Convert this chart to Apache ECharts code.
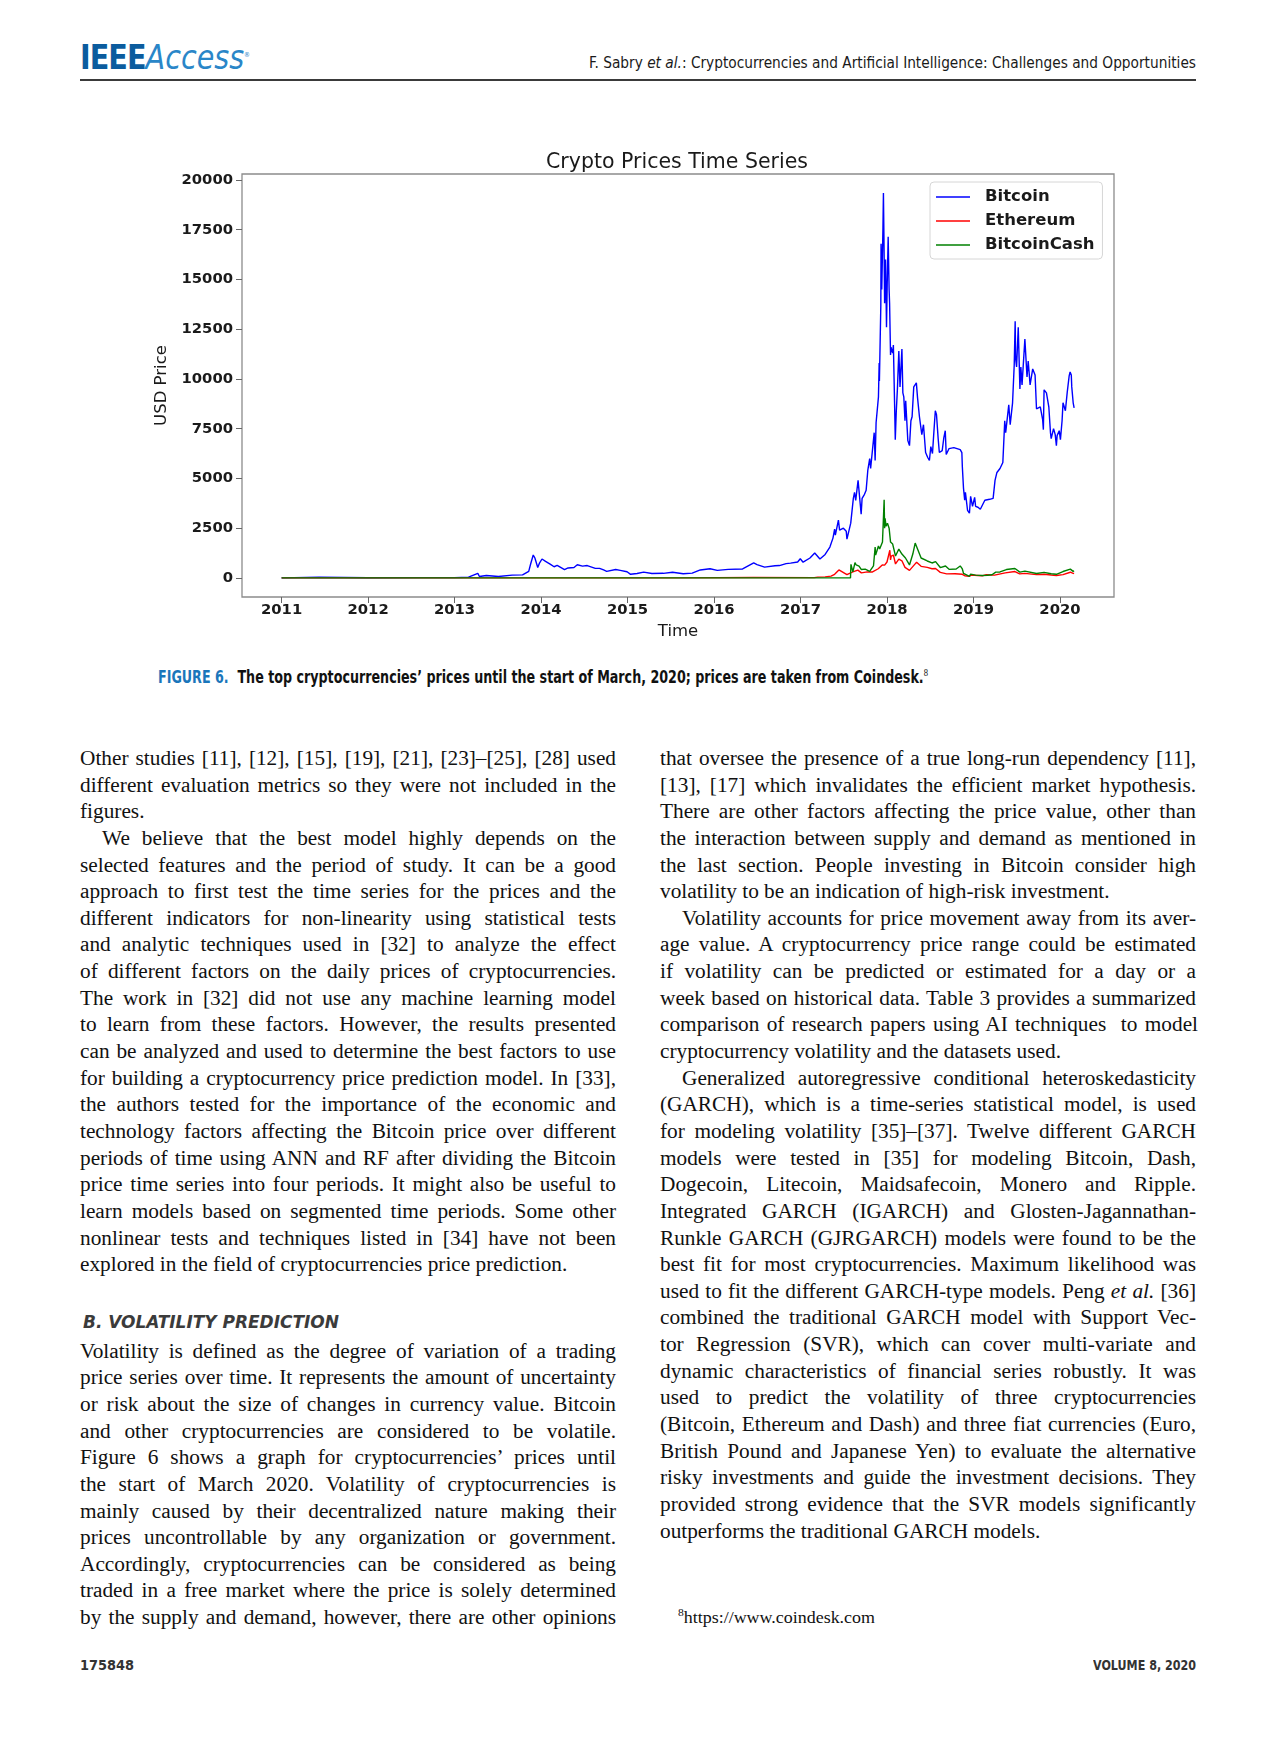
<!DOCTYPE html>
<html><head><meta charset="utf-8">
<script src="https://cdn.jsdelivr.net/npm/echarts@6/dist/echarts.min.js"></script>
<style>
html,body{margin:0;padding:0;background:#fff;}
body{width:1280px;height:1740px;position:relative;overflow:hidden;font-family:'Liberation Serif','Times New Roman',serif;color:#231f20;}
.abs{position:absolute;white-space:nowrap;}
.fit{transform-origin:0 50%;display:inline-block;white-space:nowrap;}
.sans{font-family:'Liberation Sans Narrow','DejaVu Sans Condensed','Liberation Sans',sans-serif;}
.col{position:absolute;width:536px;font-size:21.3px;line-height:26.65px;color:#111;}
.ln{white-space:nowrap;height:26.65px;}
.ln span{display:inline-block;white-space:nowrap;}
.ind{padding-left:22px;}
#chart{position:absolute;left:0;top:120px;width:1280px;height:540px;}
</style></head><body>

<div class="abs sans" style="left:80px;top:36px;line-height:38px;height:38px;font-size:34px;">
  <span class="fit" data-w="170"><b style="color:#0b5c9e;letter-spacing:-1px;">IEEE</b><i style="color:#2a86c8;">Access</i><sup style="font-size:7px;color:#2a86c8;">®</sup></span>
</div>
<div class="abs sans" style="left:589px;top:53px;line-height:20px;height:20px;font-size:16.5px;color:#1a1a1a;">
  <span class="fit" data-w="607">F. Sabry <i>et al.</i>: Cryptocurrencies and Artificial Intelligence: Challenges and Opportunities</span>
</div>
<div class="abs" style="left:80px;top:79px;width:1116px;height:1.5px;background:#3a3a3a;"></div>

<div id="chart"></div>

<div class="abs sans" style="left:158px;top:661px;line-height:22px;height:22px;font-size:18px;font-weight:bold;color:#111;">
  <span class="fit" data-w="770"><span style="color:#1a76bb;">FIGURE 6.</span>&nbsp; The top cryptocurrencies’ prices until the start of March, 2020; prices are taken from Coindesk.<sup style="font-weight:normal;font-size:11px;font-family:'Liberation Serif',serif;">8</sup></span>
</div>

<div class="col" id="leftA" style="left:80px;top:745px;">
  <div class="ln j"><span>Other studies [11], [12], [15], [19], [21], [23]–[25], [28] used</span></div>
  <div class="ln j"><span>different evaluation metrics so they were not included in the</span></div>
  <div class="ln"><span>figures.</span></div>
  <div class="ln j ind"><span>We believe that the best model highly depends on the</span></div>
  <div class="ln j"><span>selected features and the period of study. It can be a good</span></div>
  <div class="ln j"><span>approach to first test the time series for the prices and the</span></div>
  <div class="ln j"><span>different indicators for non-linearity using statistical tests</span></div>
  <div class="ln j"><span>and analytic techniques used in [32] to analyze the effect</span></div>
  <div class="ln j"><span>of different factors on the daily prices of cryptocurrencies.</span></div>
  <div class="ln j"><span>The work in [32] did not use any machine learning model</span></div>
  <div class="ln j"><span>to learn from these factors. However, the results presented</span></div>
  <div class="ln j"><span>can be analyzed and used to determine the best factors to use</span></div>
  <div class="ln j"><span>for building a cryptocurrency price prediction model. In [33],</span></div>
  <div class="ln j"><span>the authors tested for the importance of the economic and</span></div>
  <div class="ln j"><span>technology factors affecting the Bitcoin price over different</span></div>
  <div class="ln j"><span>periods of time using ANN and RF after dividing the Bitcoin</span></div>
  <div class="ln j"><span>price time series into four periods. It might also be useful to</span></div>
  <div class="ln j"><span>learn models based on segmented time periods. Some other</span></div>
  <div class="ln j"><span>nonlinear tests and techniques listed in [34] have not been</span></div>
  <div class="ln"><span>explored in the field of cryptocurrencies price prediction.</span></div>
</div>

<div class="abs sans" style="left:83px;top:1311px;line-height:22px;height:22px;font-size:18px;font-weight:bold;font-style:italic;color:#3b3b3b;">
  <span class="fit" data-w="256">B. VOLATILITY PREDICTION</span>
</div>

<div class="col" id="leftB" style="left:80px;top:1337.7px;">
  <div class="ln j"><span>Volatility is defined as the degree of variation of a trading</span></div>
  <div class="ln j"><span>price series over time. It represents the amount of uncertainty</span></div>
  <div class="ln j"><span>or risk about the size of changes in currency value. Bitcoin</span></div>
  <div class="ln j"><span>and other cryptocurrencies are considered to be volatile.</span></div>
  <div class="ln j"><span>Figure 6 shows a graph for cryptocurrencies’ prices until</span></div>
  <div class="ln j"><span>the start of March 2020. Volatility of cryptocurrencies is</span></div>
  <div class="ln j"><span>mainly caused by their decentralized nature making their</span></div>
  <div class="ln j"><span>prices uncontrollable by any organization or government.</span></div>
  <div class="ln j"><span>Accordingly, cryptocurrencies can be considered as being</span></div>
  <div class="ln j"><span>traded in a free market where the price is solely determined</span></div>
  <div class="ln j"><span>by the supply and demand, however, there are other opinions</span></div>
</div>

<div class="col" id="right" style="left:660px;top:745px;">
  <div class="ln j"><span>that oversee the presence of a true long-run dependency [11],</span></div>
  <div class="ln j"><span>[13], [17] which invalidates the efficient market hypothesis.</span></div>
  <div class="ln j"><span>There are other factors affecting the price value, other than</span></div>
  <div class="ln j"><span>the interaction between supply and demand as mentioned in</span></div>
  <div class="ln j"><span>the last section. People investing in Bitcoin consider high</span></div>
  <div class="ln"><span>volatility to be an indication of high-risk investment.</span></div>
  <div class="ln j ind"><span>Volatility accounts for price movement away from its aver-</span></div>
  <div class="ln j"><span>age value. A cryptocurrency price range could be estimated</span></div>
  <div class="ln j"><span>if volatility can be predicted or estimated for a day or a</span></div>
  <div class="ln j"><span>week based on historical data. Table 3 provides a summarized</span></div>
  <div class="ln j"><span>comparison of research papers using AI techniques&nbsp; to model</span></div>
  <div class="ln"><span>cryptocurrency volatility and the datasets used.</span></div>
  <div class="ln j ind"><span>Generalized autoregressive conditional heteroskedasticity</span></div>
  <div class="ln j"><span>(GARCH), which is a time-series statistical model, is used</span></div>
  <div class="ln j"><span>for modeling volatility [35]–[37]. Twelve different GARCH</span></div>
  <div class="ln j"><span>models were tested in [35] for modeling Bitcoin, Dash,</span></div>
  <div class="ln j"><span>Dogecoin, Litecoin, Maidsafecoin, Monero and Ripple.</span></div>
  <div class="ln j"><span>Integrated GARCH (IGARCH) and Glosten-Jagannathan-</span></div>
  <div class="ln j"><span>Runkle GARCH (GJRGARCH) models were found to be the</span></div>
  <div class="ln j"><span>best fit for most cryptocurrencies. Maximum likelihood was</span></div>
  <div class="ln j"><span>used to fit the different GARCH-type models. Peng <i>et al.</i> [36]</span></div>
  <div class="ln j"><span>combined the traditional GARCH model with Support Vec-</span></div>
  <div class="ln j"><span>tor Regression (SVR), which can cover multi-variate and</span></div>
  <div class="ln j"><span>dynamic characteristics of financial series robustly. It was</span></div>
  <div class="ln j"><span>used to predict the volatility of three cryptocurrencies</span></div>
  <div class="ln j"><span>(Bitcoin, Ethereum and Dash) and three fiat currencies (Euro,</span></div>
  <div class="ln j"><span>British Pound and Japanese Yen) to evaluate the alternative</span></div>
  <div class="ln j"><span>risky investments and guide the investment decisions. They</span></div>
  <div class="ln j"><span>provided strong evidence that the SVR models significantly</span></div>
  <div class="ln"><span>outperforms the traditional GARCH models.</span></div>
</div>

<div class="abs" style="left:678px;top:1601px;line-height:22px;height:22px;font-size:17px;color:#111;">
  <span class="fit" data-w="197"><sup style="font-size:11px;">8</sup>https://www.coindesk.com</span>
</div>

<div class="abs sans" style="left:80px;top:1656px;line-height:18px;height:18px;font-size:14px;font-weight:bold;color:#333;">
  <span class="fit" data-w="54">175848</span>
</div>
<div class="abs sans" style="left:1093px;top:1656px;line-height:18px;height:18px;font-size:14px;font-weight:bold;color:#333;">
  <span class="fit" data-w="103">VOLUME 8, 2020</span>
</div>

<script>
// ---------------- data ----------------
const yearTicks = [2011, 2012, 2013, 2014, 2015, 2016, 2017, 2018, 2019, 2020];
const priceTicks = [0, 2500, 5000, 7500, 10000, 12500, 15000, 17500, 20000];
const seriesNames = ['Bitcoin', 'Ethereum', 'BitcoinCash'];

const btcDates = ['2011-01-01','2011-06-08','2011-12-31','2012-08-15','2012-12-31','2013-03-01','2013-04-09','2013-04-16','2013-05-15','2013-07-05','2013-09-01','2013-10-15','2013-11-10','2013-11-18','2013-11-29','2013-12-06','2013-12-18','2013-12-26','2014-01-05','2014-01-20','2014-02-10','2014-02-25','2014-03-10','2014-04-10','2014-04-25','2014-05-20','2014-06-03','2014-06-25','2014-07-15','2014-08-18','2014-09-05','2014-09-22','2014-10-05','2014-11-12','2014-12-01','2014-12-30','2015-01-14','2015-02-10','2015-03-10','2015-04-14','2015-06-01','2015-07-10','2015-08-24','2015-10-01','2015-11-04','2015-11-11','2015-12-15','2016-01-15','2016-03-01','2016-05-01','2016-06-17','2016-07-01','2016-08-02','2016-09-15','2016-10-04','2016-11-01','2016-11-20','2016-12-20','2016-12-31','2017-01-04','2017-01-12','2017-02-10','2017-03-02','2017-03-08','2017-03-24','2017-04-15','2017-05-05','2017-05-18','2017-05-25','2017-05-28','2017-06-10','2017-06-15','2017-07-01','2017-07-13','2017-07-16','2017-08-01','2017-08-12','2017-08-17','2017-08-22','2017-09-01','2017-09-14','2017-09-18','2017-09-28','2017-10-05','2017-10-12','2017-10-20','2017-10-24','2017-11-08','2017-11-12','2017-11-16','2017-11-26','2017-11-29','2017-11-30','2017-12-06','2017-12-07','2017-12-10','2017-12-15','2017-12-17','2017-12-19','2017-12-22','2017-12-26','2017-12-30','2018-01-02','2018-01-06','2018-01-10','2018-01-12','2018-01-16','2018-01-18','2018-01-21','2018-01-25','2018-01-28','2018-02-02','2018-02-05','2018-02-09','2018-02-14','2018-02-20','2018-02-25','2018-03-05','2018-03-09','2018-03-13','2018-03-18','2018-03-21','2018-03-30','2018-04-06','2018-04-12','2018-04-17','2018-04-24','2018-05-05','2018-05-10','2018-05-18','2018-05-28','2018-06-04','2018-06-13','2018-06-22','2018-06-29','2018-07-05','2018-07-12','2018-07-18','2018-07-24','2018-07-29','2018-08-05','2018-08-10','2018-08-14','2018-08-22','2018-08-29','2018-09-04','2018-09-08','2018-09-20','2018-09-25','2018-10-10','2018-10-18','2018-11-06','2018-11-13','2018-11-15','2018-11-20','2018-11-25','2018-11-28','2018-12-07','2018-12-15','2018-12-20','2018-12-24','2018-12-28','2019-01-06','2019-01-10','2019-01-20','2019-01-30','2019-02-07','2019-02-18','2019-02-24','2019-03-10','2019-03-25','2019-04-02','2019-04-10','2019-04-23','2019-05-05','2019-05-13','2019-05-17','2019-05-30','2019-06-05','2019-06-15','2019-06-22','2019-06-26','2019-06-28','2019-07-02','2019-07-09','2019-07-16','2019-07-20','2019-07-25','2019-08-06','2019-08-15','2019-08-20','2019-08-28','2019-09-08','2019-09-18','2019-09-24','2019-10-10','2019-10-20','2019-10-23','2019-10-26','2019-11-05','2019-11-15','2019-11-22','2019-11-25','2019-12-05','2019-12-12','2019-12-17','2019-12-20','2019-12-29','2020-01-03','2020-01-10','2020-01-14','2020-01-24','2020-02-01','2020-02-09','2020-02-13','2020-02-18','2020-02-20','2020-02-24','2020-02-26','2020-03-01'];
const btcPrices = [0.3,30,4.7,13,13.5,34,230,70,120,70,140,150,330,700,1150,1000,520,760,950,830,680,560,630,420,500,520,660,590,620,480,480,400,330,420,380,310,180,220,290,220,230,285,210,240,400,310,460,380,430,450,750,670,540,610,620,720,740,800,960,1000,790,1000,1250,1280,950,1180,1550,2000,2450,2150,2900,2400,2500,2350,1950,2750,4000,4300,3900,4900,3200,4000,4200,4400,5400,6000,5500,7300,5900,7800,9100,10800,9900,13700,16800,14500,17600,19345,17300,13800,16000,12600,14800,17150,14500,13800,11200,11600,11500,11300,11700,8800,6950,8300,9500,11400,9600,11500,9300,9100,7900,8900,6900,6650,7900,8100,9600,9800,9050,8100,7200,7700,6300,6050,5900,6600,6250,7350,8400,8200,7000,6300,6200,6400,7050,7400,6200,6500,6400,6550,6450,6450,6300,5600,4500,3900,4300,3400,3250,4100,4050,3600,4050,3600,3550,3450,3400,3900,3800,3950,4000,4900,5300,5500,5800,7900,7300,8700,7700,8800,10700,12900,11000,10600,12600,9500,10600,9700,12000,10100,10900,9700,10500,10200,8500,8600,7950,7450,9450,9300,8600,7300,7000,7500,7200,6650,7150,7400,6950,7900,8800,8400,9350,10150,10350,10200,9600,9650,8800,8550];

const ethDates = ['2011-01-01','2015-08-07','2016-06-15','2017-02-28','2017-03-15','2017-04-15','2017-05-10','2017-05-25','2017-06-12','2017-06-20','2017-07-16','2017-07-25','2017-08-10','2017-08-31','2017-09-15','2017-10-10','2017-11-01','2017-11-25','2017-12-12','2017-12-22','2018-01-01','2018-01-13','2018-01-16','2018-01-19','2018-01-28','2018-02-06','2018-02-20','2018-03-05','2018-03-18','2018-04-06','2018-04-28','2018-05-06','2018-05-25','2018-06-20','2018-07-10','2018-07-25','2018-08-14','2018-09-10','2018-10-15','2018-11-15','2018-11-25','2018-12-14','2018-12-24','2019-01-20','2019-02-07','2019-02-24','2019-03-31','2019-05-15','2019-06-25','2019-07-15','2019-08-06','2019-09-24','2019-10-26','2019-11-25','2019-12-17','2020-01-14','2020-02-14','2020-02-26','2020-03-01'];
const ethPrices = [0,2.8,20,16,40,50,90,180,400,350,160,220,300,390,250,300,300,460,650,640,800,1390,900,1100,1150,700,940,860,530,380,680,790,580,530,460,470,280,200,210,180,110,85,140,120,105,160,140,250,320,200,230,165,180,145,122,165,285,225,220];

const bchDates = ['2011-01-01','2017-07-31','2017-08-01','2017-08-02','2017-08-10','2017-08-19','2017-08-24','2017-09-05','2017-09-15','2017-10-01','2017-10-20','2017-11-05','2017-11-12','2017-11-14','2017-11-26','2017-12-01','2017-12-08','2017-12-13','2017-12-17','2017-12-20','2017-12-22','2017-12-24','2017-12-28','2018-01-03','2018-01-10','2018-01-16','2018-01-25','2018-02-06','2018-02-20','2018-03-05','2018-03-20','2018-04-06','2018-04-20','2018-04-30','2018-05-10','2018-05-25','2018-06-20','2018-07-10','2018-07-25','2018-08-14','2018-09-05','2018-09-20','2018-10-20','2018-11-06','2018-11-15','2018-11-20','2018-12-15','2018-12-20','2019-01-10','2019-02-07','2019-03-01','2019-03-20','2019-04-05','2019-04-23','2019-05-20','2019-06-25','2019-07-16','2019-08-06','2019-09-24','2019-10-26','2019-11-25','2019-12-17','2020-01-14','2020-02-14','2020-02-26','2020-03-01'];
const bchPrices = [0,0,390,680,300,770,650,590,420,440,330,600,1550,1150,1600,1450,1350,1800,1900,3930,2500,3000,2600,2750,2500,1800,1700,1100,1450,1200,1000,650,1200,1750,1450,1000,850,750,820,520,600,430,450,600,450,230,80,190,140,120,130,160,290,300,420,470,290,340,220,280,210,180,320,440,330,350];

// ---------------- helpers ----------------
function decYear(s) {
  const p = s.split('-').map(Number);
  const t = Date.UTC(p[0], p[1] - 1, p[2]);
  const t0 = Date.UTC(p[0], 0, 1), t1 = Date.UTC(p[0] + 1, 0, 1);
  return p[0] + (t - t0) / (t1 - t0);
}
function pairs(dates, vals) { return dates.map((d, i) => [decYear(d), vals[i]]); }

const FONT = 'DejaVu Sans';
const chart = echarts.init(document.getElementById('chart'), null, {renderer: 'canvas'});
const lineSeries = (name, dates, vals, color) => ({
  name: name, type: 'line', data: pairs(dates, vals), symbol: 'none', showSymbol: false,
  lineStyle: {color: color, width: 1.4}, itemStyle: {color: color}, animation: false
});

chart.setOption({
  animation: false,
  title: {
    text: 'Crypto Prices Time Series', left: 677, top: 32, textAlign: 'center', padding: 0,
    textStyle: {fontFamily: FONT, fontSize: 20.5, fontWeight: 'normal', color: '#1a1a1a'}
  },
  legend: {
    orient: 'vertical', left: 930, top: 62, padding: [6, 8, 5, 6], itemGap: 6,
    itemWidth: 34, itemHeight: 1.6, icon: 'rect',
    backgroundColor: 'rgba(255,255,255,0.85)', borderColor: '#d6d6d6', borderWidth: 1, borderRadius: 4,
    textStyle: {fontFamily: FONT, fontSize: 16.5, fontWeight: 'bold', color: '#1a1a1a', padding: [0, 0, 0, 10], lineHeight: 18},
    data: seriesNames
  },
  grid: {left: 242, right: 166, top: 54, bottom: 63, show: true, borderColor: '#8c8c8c', borderWidth: 1.3, backgroundColor: 'transparent'},
  xAxis: {
    type: 'value', min: 2010.542, max: 2020.625,
    axisLine: {show: false, onZero: false},
    axisTick: {show: true, length: 6, lineStyle: {color: '#666'}, customValues: yearTicks},
    axisLabel: {customValues: yearTicks, formatter: v => String(Math.round(v)), margin: 6,
      fontFamily: FONT, fontSize: 14.8, fontWeight: 'bold', color: '#1a1a1a'},
    splitLine: {show: false},
    name: 'Time', nameLocation: 'middle', nameGap: 19,
    nameTextStyle: {fontFamily: FONT, fontSize: 16.5, color: '#1a1a1a'}
  },
  yAxis: {
    type: 'value', min: -960, max: 20300,
    axisLine: {show: false, onZero: false},
    axisTick: {show: true, length: 6, lineStyle: {color: '#666'}, customValues: priceTicks},
    axisLabel: {customValues: priceTicks, formatter: v => String(Math.round(v)), margin: 9,
      fontFamily: FONT, fontSize: 14.8, fontWeight: 'bold', color: '#1a1a1a'},
    splitLine: {show: false},
    name: 'USD Price', nameLocation: 'middle', nameGap: 59,
    nameTextStyle: {fontFamily: FONT, fontSize: 16.5, color: '#1a1a1a'}
  },
  series: [
    lineSeries(seriesNames[0], btcDates, btcPrices, '#0000ff'),
    lineSeries(seriesNames[1], ethDates, ethPrices, '#ff0000'),
    lineSeries(seriesNames[2], bchDates, bchPrices, '#008000')
  ]
});

// ---------------- text fitting ----------------
document.querySelectorAll('.fit').forEach(el => {
  const w = parseFloat(el.getAttribute('data-w'));
  const nat = el.getBoundingClientRect().width;
  if (nat > 0) el.style.transform = 'scaleX(' + (w / nat) + ')';
});
document.querySelectorAll('.ln').forEach(ln => {
  const span = ln.querySelector('span');
  const target = 536 - (ln.classList.contains('ind') ? 22 : 0);
  const nat = span.getBoundingClientRect().width;
  if (ln.classList.contains('j')) {
    const n = (span.textContent.match(/ /g) || []).length;
    if (n > 0) span.style.wordSpacing = ((target - nat) / n) + 'px';
  } else if (nat > target) {
    span.style.transformOrigin = '0 50%';
    span.style.transform = 'scaleX(' + (target / nat) + ')';
  }
});
</script>
</body></html>
